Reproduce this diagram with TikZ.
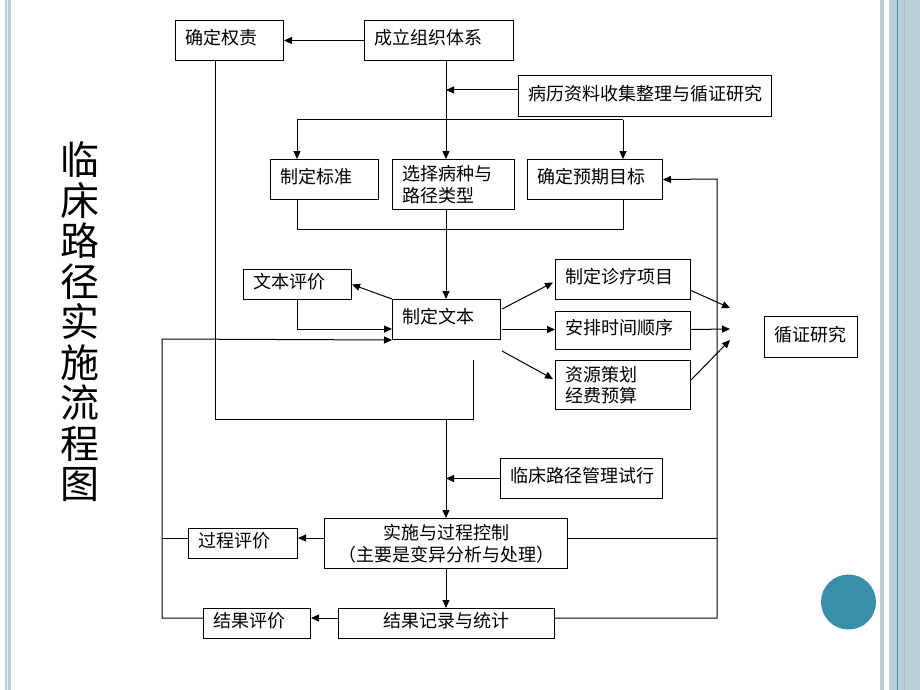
\documentclass[tikz,border=0pt]{standalone}
\usepackage{fontspec}
\setmainfont{Noto Sans CJK SC}
\usetikzlibrary{arrows.meta,calc}
\definecolor{barblue}{HTML}{B9CFD8}
\definecolor{barline}{HTML}{3F8EA6}
\definecolor{barmid}{HTML}{A3C2CC}
\definecolor{dotteal}{HTML}{3A8FA8}
\begin{document}
\begin{tikzpicture}[x=1pt,y=-1pt,
  mbox/.style={draw, line width=1pt, inner xsep=10pt, inner ysep=0pt, align=left,
    anchor=north west, font=\fontsize{18}{21.5}\selectfont},
  box/.style={mbox, text depth=7pt},
  cbox/.style={mbox, align=center},
  ln/.style={line width=1pt},
  arr/.style={line width=1pt, -{Triangle[length=8pt,width=7pt]}},
  title/.style={align=center, font=\fontsize{39}{40.5}\selectfont}
]
\useasboundingbox (0,0) rectangle (920,690);
% decorations
\fill[barblue] (5,0) rectangle (11,690);
\fill[white!70!barblue] (6.5,0) rectangle (7.5,690);
\fill[barblue] (880,0) rectangle (884,690);
\fill[barblue] (889,0) rectangle (920,690);
\fill[barline] (896.5,0) rectangle (897.8,690);
\fill[barmid] (904,0) rectangle (905.3,690);
\fill[dotteal] (848.5,602) circle (27.5);

% title
\node[title] (ttl) at (80,322) {临\\床\\路\\径\\实\\施\\流\\程\\图};

% boxes
\node[box, text width=88pt, minimum height=40pt] (qdqz) at (175,20) {确定权责};
\node[box, text width=129pt, minimum height=40pt] (clzz) at (364,20) {成立组织体系};
\node[box, text width=233pt, minimum height=41pt] (blzl) at (518,75) {病历资料收集整理与循证研究};
\node[box, text width=88pt, minimum height=40pt] (zdbz) at (270,159) {制定标准};
\node[mbox, text width=102pt, minimum height=50pt] (xzbz) at (392,159) {选择病种与\\路径类型};
\node[box, text width=115pt, minimum height=40pt] (qdyq) at (527,159) {确定预期目标};
\node[box, text width=88pt, minimum height=30pt] (wbpj) at (243,269) {文本评价};
\node[box, text width=88pt, minimum height=40pt] (zdwb) at (392,299) {制定文本};
\node[box, text width=115pt, minimum height=40pt] (zlxm) at (555,259) {制定诊疗项目};
\node[box, text width=115pt, minimum height=38pt] (apsj) at (555,311) {安排时间顺序};
\node[mbox, text width=115pt, minimum height=49pt] (zycx) at (555,360) {资源策划\\经费预算};
\node[box, text width=73pt, minimum height=41pt] (xzyj) at (764,316) {循证研究};
\node[box, text width=142pt, minimum height=40pt] (lclj) at (500,458) {临床路径管理试行};
\node[cbox, text width=223pt, minimum height=50pt] (ssgc) at (324,518) {实施与过程控制\\（主要是变异分析与处理）};
\node[box, text width=89pt, minimum height=30pt] (gcpj) at (188,528) {过程评价};
\node[box, align=center, text width=196pt, minimum height=30pt] (jgjl) at (338,608) {结果记录与统计};
\node[box, text width=87pt, minimum height=30pt] (jgpj) at (203,608) {结果评价};

% helper coordinates
\coordinate (sx) at (446,0);
\coordinate (r1) at (446,90);
\coordinate (b1) at (297,120);
\coordinate (b3) at (623,120);
\coordinate (c1) at (297,229);
\coordinate (c3) at (623,229);
\coordinate (d1) at (392,329);
\coordinate (Q1) at (215,419);
\coordinate (Q2) at (473,419);
\coordinate (Q3) at (473,360);
\coordinate (S1) at (446,419);
\coordinate (L0) at (162,339);
\coordinate (L1) at (162,538);
\coordinate (L2) at (162,618);
\coordinate (R0) at (717,179);
\coordinate (R1) at (717,538);
\coordinate (R2) at (717,618);
\coordinate (E1) at (730,308);
\coordinate (E2) at (730,329);
\coordinate (E3) at (730,340);

% top part
\draw[arr] (clzz.west) -- (qdqz.east);
\draw[arr] (clzz.south -| sx) -- (xzbz.north -| sx);
\draw[arr] (blzl.west |- r1) -- (r1);
\draw[ln] (b1) -- (b3);
\draw[arr] (b1) -- (b1 |- zdbz.north);
\draw[arr] (b3) -- (b3 |- qdyq.north);
\draw[ln] (c1 |- zdbz.south) -- (c1) -- (c3) -- (c3 |- qdyq.south);
\draw[arr] (xzbz.south -| sx) -- (zdwb.north -| sx);

% text evaluation loop
\draw[arr] (zdwb.north west) -- (wbpj.east);
\draw[arr] (wbpj.south) |- (d1);

% outputs of text
\draw[arr] ($(zdwb.north east)+(1,10)$) -- ($(zlxm.west)+(-2,3)$);
\draw[arr] ($(zdwb.east)+(1,10)$) -- ($(apsj.west)+(0,-1)$);
\draw[arr] ($(zdwb.south east)+(1,11)$) -- ($(zycx.west)+(-2,-6)$);
\draw[arr] ($(zlxm.east)+(0,11)$) -- (E1);
\draw[arr] ($(apsj.east)+(0,-1)$) -- (E2);
\draw[arr] ($(zycx.east)+(0,-5)$) -- (E3);

% responsibility line
\draw[ln] (qdqz.south -| Q1) -- (Q1) -- (Q2) -- (Q3);

% implementation
\draw[arr] (S1) -- (ssgc.north -| sx);
\draw[arr] (lclj.west) -- (lclj.west -| sx);
\draw[arr] (ssgc.west |- L1) -- (gcpj.east |- L1);
\draw[arr] (ssgc.south -| sx) -- (jgjl.north -| sx);
\draw[arr] (jgjl.west |- L2) -- (jgpj.east |- L2);

% left feedback loop
\draw[ln] (gcpj.west |- L1) -- (L1);
\draw[arr] (jgpj.west |- L2) -- (L2) -- (L0) -- (zdwb.south west);

% right feedback loop
\draw[ln] (ssgc.east |- R1) -- (R1);
\draw[arr] (jgjl.east |- R2) -- (R2) -- (R0) -- (qdyq.east);
\end{tikzpicture}
\end{document}
